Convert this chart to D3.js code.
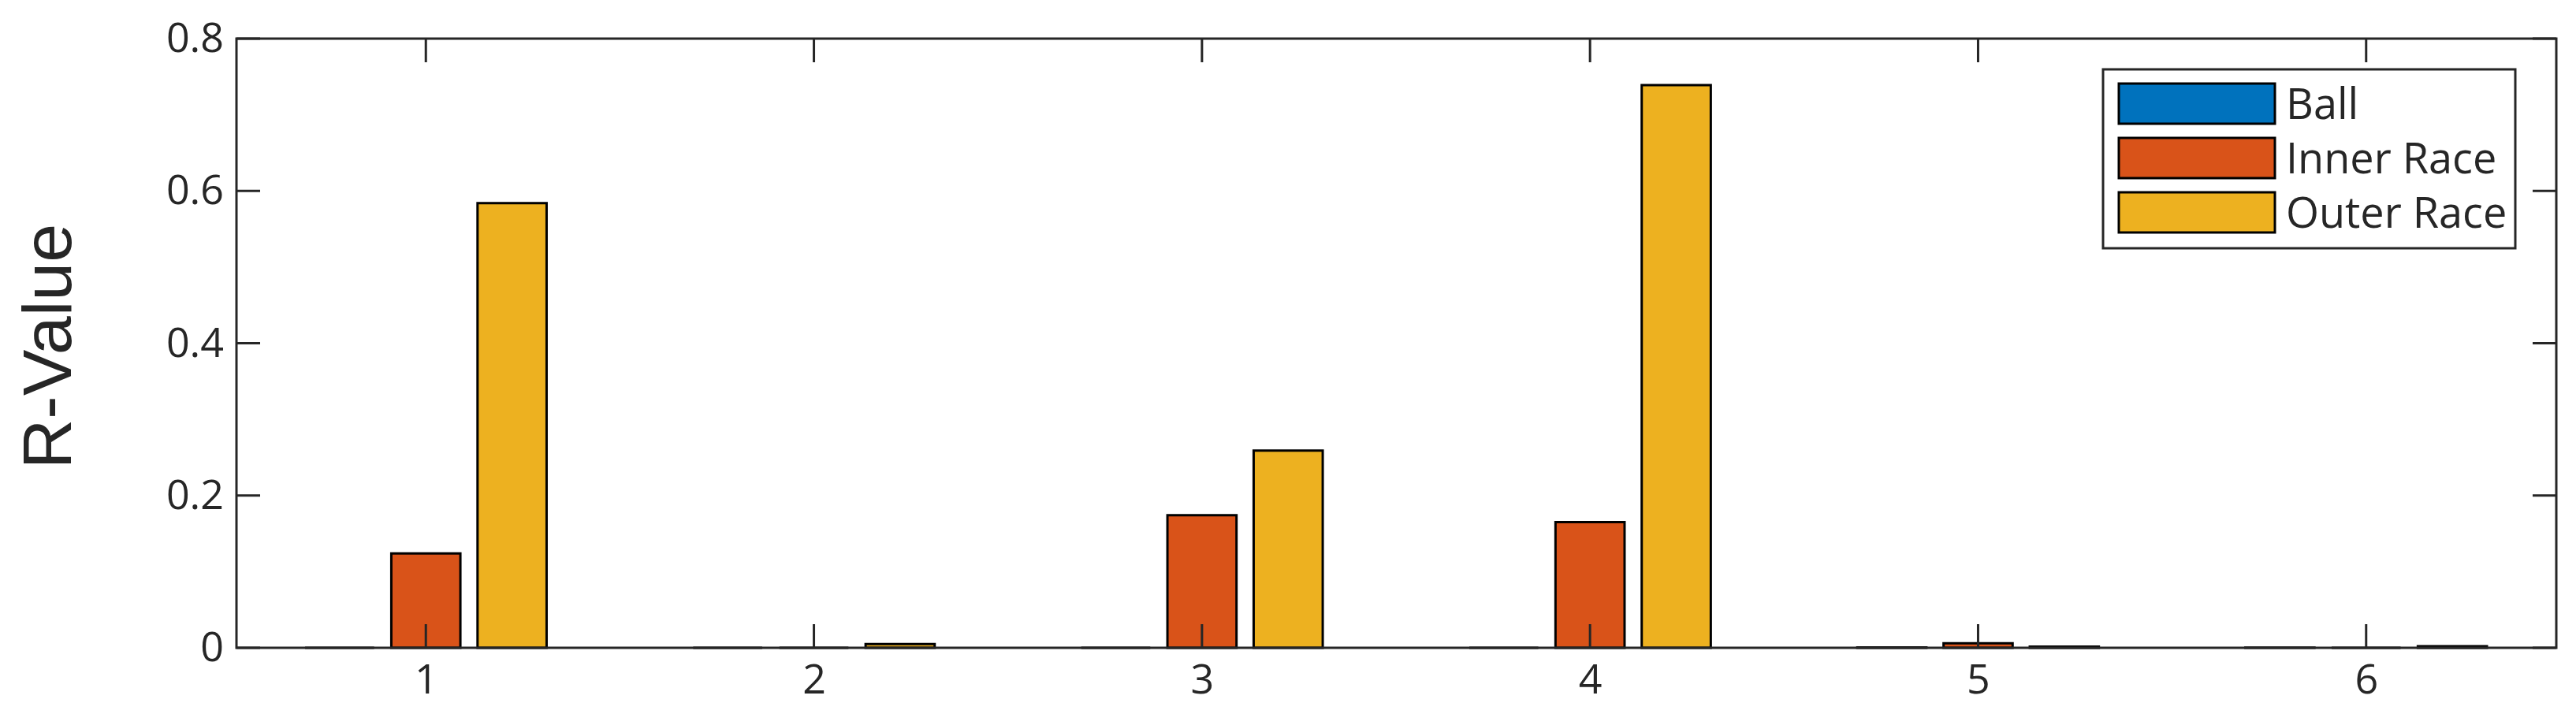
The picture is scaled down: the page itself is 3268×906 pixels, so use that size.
<!DOCTYPE html>
<html>
<head>
<meta charset="utf-8">
<script src="https://cdn.jsdelivr.net/npm/d3@7"></script>
<style>
  body { margin: 0; background: #fff; }
  svg text { font-family: "Open Sans", "Noto Sans", sans-serif; fill: #262626; }
</style>
</head>
<body>
<svg id="chart" width="3268" height="906"></svg>
<script>
const categories = [1, 2, 3, 4, 5, 6]
const seriesNames = ["Ball", "Inner Race", "Outer Race"]
const seriesColours = ["#0072BD", "#D95319", "#EDB120"]
const ball = [0, 0, 0, 0, 0.0005, 0.0003]
const innerRace = [0.124, 0, 0.174, 0.165, 0.006, 0]
const outerRace = [0.584, 0.005, 0.259, 0.739, 0.0015, 0.002]
const yTicks = [0, 0.2, 0.4, 0.6, 0.8]

const series = [ball, innerRace, outerRace]

const width = 3268, height = 906
const margin = { left: 300, right: 25, top: 49, bottom: 84 }

const svg = d3.select("#chart")

const x = d3.scaleLinear()
    .domain([0.512, 6.49])
    .range([margin.left, width - margin.right])

const y = d3.scaleLinear()
    .domain([0, 0.8])
    .range([height - margin.bottom, margin.top])

// MATLAB-style grouped bar layout
const groupOffset = 0.2222
const barW = 0.178

const barsG = svg.append("g")
series.forEach((vals, s) => {
    barsG.append("g").selectAll("path")
        .data(vals.map((v, i) => ({ v, c: categories[i] })))
        .enter().append("path")
        .attr("d", d => {
            const cx = d.c + (s - 1) * groupOffset
            const x0 = x(cx - barW / 2), x1 = x(cx + barW / 2)
            const y0 = y(0), y1 = y(d.v)
            return `M${x0},${y0}H${x1}V${y1}H${x0}Z`
        })
        .attr("fill", seriesColours[s])
        .attr("stroke", "#000")
        .attr("stroke-width", 3)
})

//axes
const tickLen = 30
const axisColour = "#262626"
const axes = svg.append("g")

axes.append("rect")
    .attr("x", margin.left).attr("y", margin.top)
    .attr("width", width - margin.right - margin.left)
    .attr("height", height - margin.bottom - margin.top)
    .attr("fill", "none").attr("stroke", axisColour).attr("stroke-width", 3)

const bottom = d3.axisBottom(x).tickValues(categories).tickSize(0).tickPadding(21).tickFormat(d3.format("d"))
const left = d3.axisLeft(y).tickValues(yTicks).tickSize(0).tickPadding(16).tickFormat(d => d === 0 ? "0" : d3.format(".1f")(d))

axes.append("g").attr("transform", `translate(0,${y(0)})`).call(bottom)
    .call(g => g.select(".domain").remove())
    .selectAll("text").style("font-size", "52px").attr("fill", axisColour)
axes.append("g").attr("transform", `translate(${margin.left},0)`).call(left)
    .call(g => g.select(".domain").remove())
    .selectAll("text").style("font-size", "52px").attr("fill", axisColour)

// inner ticks on all four sides
const ticksG = axes.append("g").attr("stroke", axisColour).attr("stroke-width", 3)
categories.forEach(c => {
    ticksG.append("line").attr("x1", x(c)).attr("x2", x(c)).attr("y1", y(0)).attr("y2", y(0) - tickLen)
    ticksG.append("line").attr("x1", x(c)).attr("x2", x(c)).attr("y1", y(0.8)).attr("y2", y(0.8) + tickLen)
})
yTicks.forEach(t => {
    ticksG.append("line").attr("x1", margin.left).attr("x2", margin.left + tickLen).attr("y1", y(t)).attr("y2", y(t))
    ticksG.append("line").attr("x1", width - margin.right).attr("x2", width - margin.right - tickLen).attr("y1", y(t)).attr("y2", y(t))
})

// y label
svg.append("text")
    .attr("transform", `translate(90,${(y(0) + y(0.8)) / 2 + 4}) rotate(-90)`)
    .attr("text-anchor", "middle")
    .style("font-family", "'Liberation Sans', Arial, sans-serif")
    .style("font-size", "88px")
    .attr("fill", "#000")
    .text("R-Value")

// legend
const legend = svg.append("g").attr("transform", "translate(2668,88)")
legend.append("rect")
    .attr("width", 523).attr("height", 227)
    .attr("fill", "#fff").attr("stroke", axisColour).attr("stroke-width", 3)
seriesNames.forEach((name, i) => {
    const row = legend.append("g").attr("transform", `translate(0,${18 + i * 69})`)
    row.append("rect")
        .attr("x", 20).attr("width", 198).attr("height", 51)
        .attr("fill", seriesColours[i]).attr("stroke", "#000").attr("stroke-width", 3)
    row.append("text")
        .attr("x", 232).attr("y", 26).attr("dy", "0.35em")
        .style("font-size", "54px").attr("fill", "#000")
        .text(name)
})
</script>
</body>
</html>
